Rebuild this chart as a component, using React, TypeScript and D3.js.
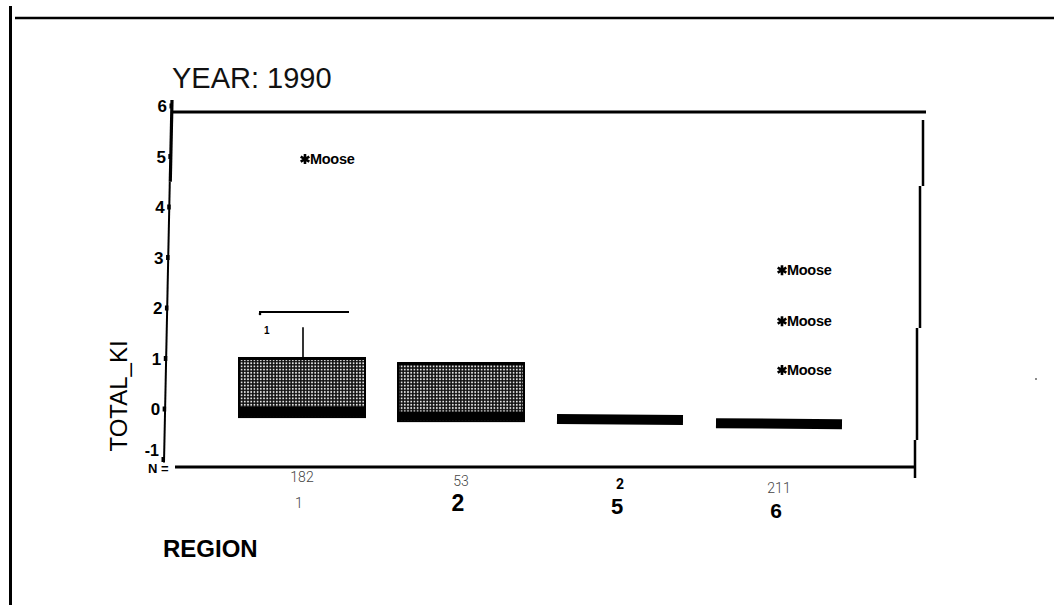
import React from "react";
import * as d3 from "d3";

// ---- data ----
const title = "YEAR: 1990";
const yLabel = "TOTAL_KI";
const xLabel = "REGION";
const regions = ["1", "2", "5", "6"];
const nCounts = [182, 53, 2, 211];
const q1 = [-0.16, -0.24, -0.2, -0.28];
const medians = [-0.04, -0.13, -0.2, -0.28];
const q3 = [1.01, 0.91, -0.2, -0.28];
const whiskerHigh: (number | null)[] = [1.62, null, null, null];
const capRegions = ["1"];
const capValues = [1.92];
const capLabels = ["1"];
const outlierRegions = ["1", "6", "6", "6"];
const outlierValues = [4.95, 2.75, 1.74, 0.77];
const outlierLabels = ["Moose", "Moose", "Moose", "Moose"];
const yTicks = [-1, 0, 1, 2, 3, 4, 5, 6];

// ---- styles (scan look) ----
const nStyles = [
  { w: 300, s: 14 },
  { w: 300, s: 14 },
  { w: 700, s: 14 },
  { w: 300, s: 14 },
];
const tickStyles = [
  { w: 300, s: 14 },
  { w: 700, s: 23 },
  { w: 700, s: 22 },
  { w: 700, s: 21 },
];

const W = 1054;
const H = 605;
const FONT = "'Liberation Sans', Arial, sans-serif";

export default function App() {
  const y = d3.scaleLinear().domain([-1, 6]).range([459.5, 106]);
  const x = d3.scalePoint<string>().domain(regions).range([302, 779]);
  const axX = d3.scaleLinear().domain([-1, 6]).range([164, 172]);
  const boxW = 126;
  const nBase = (cx: number) => 482 + (cx - 302) * 0.023;
  const tBase = (cx: number) => 508 + (cx - 302) * 0.02;

  const star = (cx: number, cy: number) => {
    const r = 5;
    const parts: string[] = [];
    for (let k = 0; k < 3; k++) {
      const a = (Math.PI / 3) * k + Math.PI / 2;
      parts.push(
        `M${cx - r * Math.cos(a)},${cy - r * Math.sin(a)}L${cx + r * Math.cos(a)},${cy + r * Math.sin(a)}`
      );
    }
    return parts.join("");
  };

  return (
    <svg
      width={W}
      height={H}
      style={{ position: "absolute", left: 0, top: 0, background: "#fff" }}
      fontFamily={FONT}
    >
      <defs>
        <pattern id="dots" width="3.2" height="3.2" patternUnits="userSpaceOnUse">
          <rect width="3.2" height="3.2" fill="#111" />
          <circle cx="1.6" cy="1.6" r="0.95" fill="#e8e8e8" />
        </pattern>
      </defs>
      <rect width={W} height={H} fill="#fff" />

      {/* outer page frame */}
      <line x1={10.5} y1={6} x2={10.5} y2={605} stroke="#000" strokeWidth={3} />
      <line x1={15} y1={18} x2={1054} y2={18} stroke="#000" strokeWidth={2.5} />

      {/* title */}
      <text x={172} y={88} fontSize={29} fill="#111">
        {title}
      </text>

      {/* plot frame */}
      <line x1={172} y1={112} x2={926} y2={112} stroke="#000" strokeWidth={3} />
      <path
        d="M923,120V186 M920,186V328 M917,328V440 M915,440V478"
        stroke="#000"
        strokeWidth={2.5}
        fill="none"
      />
      <line x1={175} y1={467} x2={915} y2={467} stroke="#000" strokeWidth={3} />

      {/* y axis (slightly skewed like the scan) */}
      <line x1={axX(6)} y1={y(6) - 6} x2={axX(4.5)} y2={y(4.5)} stroke="#000" strokeWidth={3.2} />
      <line x1={axX(4.5) - 0.5} y1={y(4.5)} x2={axX(-1)} y2={y(-1) + 3} stroke="#000" strokeWidth={2} />
      {yTicks.map((t) => (
        <g key={t}>
          <rect x={axX(t) - 2.5} y={y(t) - 2.5} width={3.5} height={5} fill="#000" />
          <text
            x={axX(t) - 5}
            y={y(t) + 6 - (t === -1 ? 10 : 0)}
            textAnchor="end"
            fontSize={t === -1 ? 16 : 17}
            fontWeight={700}
            fill="#000"
          >
            {t}
          </text>
        </g>
      ))}

      {/* y label */}
      <text
        transform={`translate(127,396) rotate(-90)`}
        textAnchor="middle"
        fontSize={24}
        fill="#000"
      >
        {yLabel}
      </text>

      {/* boxes */}
      {regions.map((r, i) => {
        const cx = x(r)!;
        const top = y(q3[i]);
        const bot = y(q1[i]);
        const degenerate = q3[i] === q1[i];
        return (
          <g key={r}>
            {whiskerHigh[i] != null && (
              <line
                x1={cx + 1}
                x2={cx + 1}
                y1={y(whiskerHigh[i] as number)}
                y2={top}
                stroke="#000"
                strokeWidth={1.6}
              />
            )}
            {!degenerate && (
              <>
                <rect
                  x={cx - boxW / 2}
                  y={top}
                  width={boxW}
                  height={bot - top}
                  fill="url(#dots)"
                  stroke="#000"
                  strokeWidth={2}
                />
                <line
                  x1={cx - boxW / 2}
                  x2={cx + boxW / 2}
                  y1={top + 0.5}
                  y2={top + 0.5}
                  stroke="#000"
                  strokeWidth={3}
                />
              </>
            )}
            <line
              x1={cx - boxW / 2}
              x2={cx + boxW / 2}
              y1={y(medians[i]) + (degenerate ? 0 : 0.5)}
              y2={y(medians[i]) + (degenerate ? 1 : 0.5)}
              stroke="#000"
              strokeWidth={degenerate ? 10 : 9}
            />
          </g>
        );
      })}

      {/* detached cap mark with case label */}
      {capRegions.map((r, i) => {
        const cx = x(r)!;
        const cy = y(capValues[i]);
        return (
          <g key={"cap" + i}>
            <line x1={cx - 43} x2={cx + 47} y1={cy} y2={cy} stroke="#000" strokeWidth={2} />
            <circle cx={cx - 42} cy={cy + 2} r={1.3} fill="#000" />
            <text x={cx - 38} y={cy + 22} fontSize={10} fontWeight={700} fill="#000">
              {capLabels[i]}
            </text>
          </g>
        );
      })}

      {/* outliers */}
      {outlierValues.map((v, i) => {
        const cx = x(outlierRegions[i])! + 3;
        const cy = y(v);
        return (
          <g key={"o" + i}>
            <path d={star(cx, cy)} stroke="#000" strokeWidth={2.6} fill="none" />
            <text
              x={cx + 5}
              y={cy + 5}
              fontSize={14.5}
              fontWeight={700}
              letterSpacing={-0.3}
              fill="#000"
            >
              {outlierLabels[i]}
            </text>
          </g>
        );
      })}

      {/* N = row and category labels */}
      <text x={148} y={473} fontSize={13} fontWeight={700} fill="#000">
        N =
      </text>
      {regions.map((r, i) => {
        const cx = x(r)!;
        return (
          <g key={"lab" + r}>
            <text
              x={cx}
              y={nBase(cx)}
              textAnchor="middle"
              fontFamily="Roboto, 'Liberation Sans', sans-serif"
              fontSize={nStyles[i].s}
              fontWeight={nStyles[i].w}
              fill={nStyles[i].w > 400 ? "#000" : "#444"}
            >
              {nCounts[i]}
            </text>
            <text
              x={cx - 3}
              y={tBase(cx)}
              textAnchor="middle"
              fontFamily={tickStyles[i].w > 400 ? FONT : "Roboto, 'Liberation Sans', sans-serif"}
              fontSize={tickStyles[i].s}
              fontWeight={tickStyles[i].w}
              fill={tickStyles[i].w > 400 ? "#000" : "#444"}
            >
              {r}
            </text>
          </g>
        );
      })}

      {/* x label */}
      <text x={163} y={557} fontSize={24} fontWeight={700} fill="#000">
        {xLabel}
      </text>

      {/* stray scan speck */}
      <circle cx={1036} cy={379} r={1} fill="#666" />
    </svg>
  );
}
